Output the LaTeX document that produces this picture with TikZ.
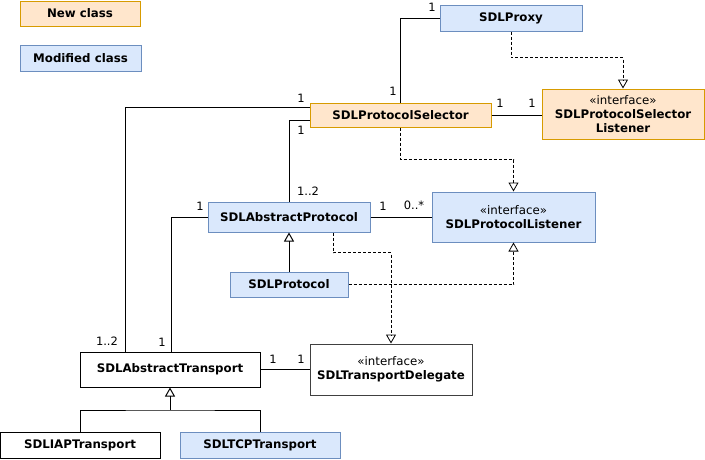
\documentclass[tikz,border=0pt]{standalone}
\usepackage{fontspec}
\setmainfont{DejaVu Sans}
\usetikzlibrary{arrows.meta}
\definecolor{newfill}{HTML}{FFE6CC}
\definecolor{newdraw}{HTML}{D79B00}
\definecolor{modfill}{HTML}{DAE8FC}
\definecolor{moddraw}{HTML}{6C8EBF}
\tikzset{
  cls/.style={rectangle, draw=black, fill=white, line width=1pt, inner sep=0pt, align=center,
    font=\fontsize{11.8}{14}\selectfont\bfseries},
  newcls/.style={cls, draw=newdraw, fill=newfill},
  modcls/.style={cls, draw=moddraw, fill=modfill},
  mult/.style={font=\fontsize{11.5}{13}\selectfont, inner sep=0pt},
  assoc/.style={line width=1pt, draw=black},
  realize/.style={line width=0.8pt, dash pattern=on 3pt off 2pt, -{Triangle[open, width=10pt, length=9pt]}},
  inherit/.style={line width=1pt, -{Triangle[open, width=10pt, length=9pt]}},
}
\newcommand{\iface}[1]{{\mdseries\guillemotleft interface\guillemotright}\\#1}

\begin{document}
\begin{tikzpicture}[x=1pt, y=-1pt]
\useasboundingbox (0,0) rectangle (705,459);
% legend
\node[newcls, minimum width=120pt, minimum height=25pt] (lnew) at (80,13.5) {New class};
\node[modcls, minimum width=121pt, minimum height=26pt] (lmod) at (80.5,58) {Modified class};
% classes
\node[modcls, minimum width=142pt, minimum height=26pt] (proxy) at (511,18) {SDLProxy};
\node[newcls, minimum width=181pt, minimum height=24pt] (sel) at (400.5,115) {SDLProtocolSelector};
\node[newcls, minimum width=162pt, minimum height=50pt] (slis) at (623,114) {\iface{SDLProtocolSelector\\Listener}};
\node[modcls, minimum width=162pt, minimum height=30pt] (aprot) at (289,217) {SDLAbstractProtocol};
\node[modcls, minimum width=163pt, minimum height=50pt] (plis) at (513.5,217) {\iface{SDLProtocolListener}};
\node[modcls, minimum width=118pt, minimum height=25pt] (prot) at (289,284.5) {SDLProtocol};
\node[cls, minimum width=180pt, minimum height=35pt] (atrans) at (170,369.5) {SDLAbstractTransport};
\node[cls, draw=black!75, minimum width=162pt, minimum height=51pt] (tdel) at (391,369.5) {\iface{SDLTransportDelegate}};
\node[cls, minimum width=160pt, minimum height=26pt] (iap) at (80,445) {SDLIAPTransport};
\node[modcls, minimum width=160pt, minimum height=26pt] (tcp) at (260,445) {SDLTCPTransport};
\coordinate (join) at (170,410);

% associations
\draw[assoc] (proxy.west) -| (sel.north);
\draw[assoc] (sel.east) -- (sel.east -| slis.west);
\draw[assoc] ([yshift=8pt]sel.west) -| ([xshift=-45pt]atrans.north);
\draw[assoc] ([yshift=-5pt]sel.west) -| (aprot.north);
\draw[assoc] (aprot.east) -- (plis.west);
\draw[assoc] (aprot.west) -| ([xshift=1pt]atrans.north);
\draw[assoc] (atrans.east) -- (atrans.east -| tdel.west);

% realizations
\draw[realize] (proxy.south) -- ++(0,26) -| (slis.north);
\draw[realize] (sel.south) -- ++(0,32) -| (plis.north);
\draw[realize] ([xshift=44pt]aprot.south) -- ++(0,20) -| (tdel.north);
\draw[realize] (prot.east) -| (plis.south);

% generalizations
\draw[inherit] (prot.north) -- (aprot.south);
\draw[line width=1pt] (iap.north) |- (join) -| (tcp.north);
\draw[inherit] (join) -- (atrans.south);

% multiplicities
\node[mult] (m1) at (432,7) {1};
\node[mult] (m2) at (393,91) {1};
\node[mult] (m3) at (301,98) {1};
\node[mult] (m4) at (301,130) {1};
\node[mult] (m5) at (500,103) {1};
\node[mult] (m6) at (532,103) {1};
\node[mult] (m7) at (308,191) {1..2};
\node[mult] (m8) at (200,206) {1};
\node[mult] (m9) at (383,206) {1};
\node[mult] (m10) at (414,205) {0..*};
\node[mult] (m11) at (107,341) {1..2};
\node[mult] (m12) at (162,342) {1};
\node[mult] (m13) at (273,359) {1};
\node[mult] (m14) at (301,359) {1};
\end{tikzpicture}
\end{document}
